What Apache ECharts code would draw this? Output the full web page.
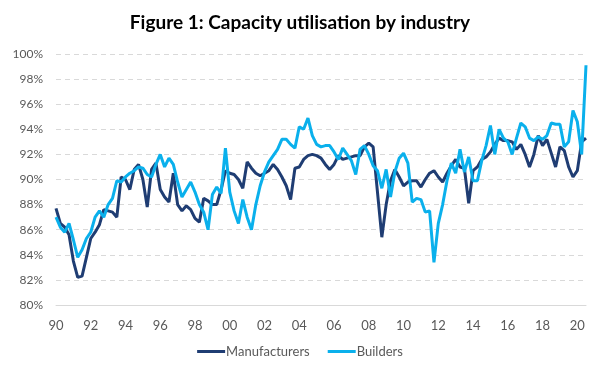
<!DOCTYPE html>
<html>
<head>
<meta charset="utf-8">
<script src="https://cdn.jsdelivr.net/npm/echarts@6/dist/echarts.min.js"></script>
<style>
  html, body { margin: 0; padding: 0; background: #fff; }
  #chart { width: 600px; height: 375px; }
</style>
</head>
<body>
<div id="chart"></div>
<script>
  // quarterly, 1990Q1 .. 2020Q3
  const startYear = 1990;
  const tickLabels = ['90', '92', '94', '96', '98', '00', '02', '04', '06', '08', '10', '12', '14', '16', '18', '20'];

  const manufacturers = [
    87.7, 86.5, 86.2, 85.6, 83.5, 82.2, 82.3, 83.8, 85.3, 85.8,
    86.4, 87.6, 87.5, 87.4, 87.0, 90.2, 90.0, 89.2, 90.8, 91.2,
    90.0, 87.8, 90.8, 91.3, 89.2, 88.6, 88.2, 90.5, 88.0, 87.5,
    87.9, 87.6, 86.9, 86.6, 88.5, 88.3, 88.0, 88.0, 89.2, 90.7,
    90.5, 90.4, 90.0, 89.3, 91.4, 90.9, 90.5, 90.3, 90.5, 90.7,
    91.2, 90.8, 90.2, 89.5, 88.4, 90.9, 91.0, 91.6, 91.9, 92.0,
    91.9, 91.7, 91.2, 90.8, 91.2, 91.9, 91.6, 91.7, 91.8, 91.9,
    91.9, 92.6, 92.9, 92.6, 89.0, 85.4, 88.0, 89.9, 90.8, 90.2,
    89.5, 89.8, 89.9, 89.9, 89.4, 90.0, 90.5, 90.7, 90.2, 89.8,
    90.5, 91.1, 91.6, 91.0, 90.9, 88.1, 90.7, 91.0, 91.6, 91.8,
    92.2, 92.8, 93.3, 93.1, 93.1, 93.0, 92.4, 92.8, 92.0, 91.0,
    92.0, 93.5, 92.7, 93.2, 92.1, 91.0, 92.6, 92.3, 91.0, 90.2,
    90.7, 93.0, 93.3
  ];

  const builders = [
    87.0, 86.2, 85.8, 86.5, 85.2, 83.8, 84.4, 85.3, 85.8, 87.0,
    87.5, 87.0, 88.0, 88.5, 89.9, 89.8, 90.2, 90.5, 90.7, 91.0,
    90.9, 90.4, 90.2, 91.2, 92.0, 91.0, 91.7, 91.2, 89.8, 88.6,
    89.2, 89.8, 89.0, 88.0, 87.4, 86.0, 88.8, 89.4, 88.9, 92.5,
    89.0, 87.5, 86.5, 88.4, 87.0, 86.0, 88.0, 89.5, 90.6, 91.4,
    91.9, 92.4, 93.2, 93.2, 92.8, 92.5, 94.2, 94.0, 94.9, 93.5,
    92.8, 92.6, 92.7, 92.7, 92.2, 91.6, 92.5, 92.0, 91.5, 90.4,
    92.4, 92.7, 92.0, 91.1, 90.7, 89.3, 90.8, 88.6, 90.6, 91.7,
    92.1, 91.3, 88.2, 88.5, 88.4, 87.4, 87.5, 83.4, 86.5, 88.0,
    89.9, 91.3, 90.5, 92.4, 90.6, 91.8, 89.9, 89.9, 91.5, 92.7,
    94.3, 92.0, 94.0, 93.3, 93.0, 92.0, 93.3, 94.5, 94.2, 93.3,
    93.1, 93.4, 93.2, 93.5, 94.5, 94.4, 94.4, 92.6, 93.0, 95.5,
    94.6, 92.0, 99.1
  ];

  const quarters = [];
  for (let i = 0; i < manufacturers.length; i++) {
    quarters.push((startYear + Math.floor(i / 4)) + 'Q' + (i % 4 + 1));
  }

  const fontFamily = 'Lato, "DejaVu Sans", sans-serif';
  const textColor = '#595959';

  const chart = echarts.init(document.getElementById('chart'));
  const option = {
    animation: false,
    title: {
      text: 'Figure 1: Capacity utilisation by industry',
      left: 'center',
      top: 8,
      textStyle: { fontFamily: fontFamily, fontSize: 19, fontWeight: 'bold', color: '#000' }
    },
    grid: { left: 56, right: 14, top: 54, bottom: 70 },
    legend: {
      bottom: 12,
      left: 'center',
      itemGap: 18,
      itemWidth: 28,
      itemHeight: 3,
      icon: 'rect',
      textStyle: { fontFamily: fontFamily, fontSize: 13, color: textColor, padding: [0, 0, 0, -4] },
      data: ['Manufacturers', 'Builders']
    },
    xAxis: {
      type: 'category',
      boundaryGap: false,
      data: quarters,
      axisLine: { lineStyle: { color: '#d9d9d9', width: 1 } },
      axisTick: { show: false },
      axisLabel: {
        interval: 7,
        margin: 14,
        color: textColor,
        fontFamily: fontFamily,
        fontSize: 13,
        formatter: function (value, index) { return tickLabels[index / 8]; }
      },
      splitLine: { show: false }
    },
    yAxis: {
      type: 'value',
      min: 80,
      max: 100,
      interval: 2,
      axisLine: { show: false },
      axisTick: { show: false },
      axisLabel: {
        margin: 13,
        color: textColor,
        fontFamily: fontFamily,
        fontSize: 12,
        formatter: '{value}%'
      },
      splitLine: { lineStyle: { color: '#d9d9d9', type: [5, 4], width: 1 } }
    },
    series: [
      {
        name: 'Manufacturers',
        type: 'line',
        data: manufacturers,
        symbol: 'none',
        lineStyle: { color: '#1f3d73', width: 3 },
        itemStyle: { color: '#1f3d73' }
      },
      {
        name: 'Builders',
        type: 'line',
        data: builders,
        symbol: 'none',
        lineStyle: { color: '#0ab0ec', width: 3 },
        itemStyle: { color: '#0ab0ec' }
      }
    ]
  };
  chart.setOption(option);
</script>
</body>
</html>
